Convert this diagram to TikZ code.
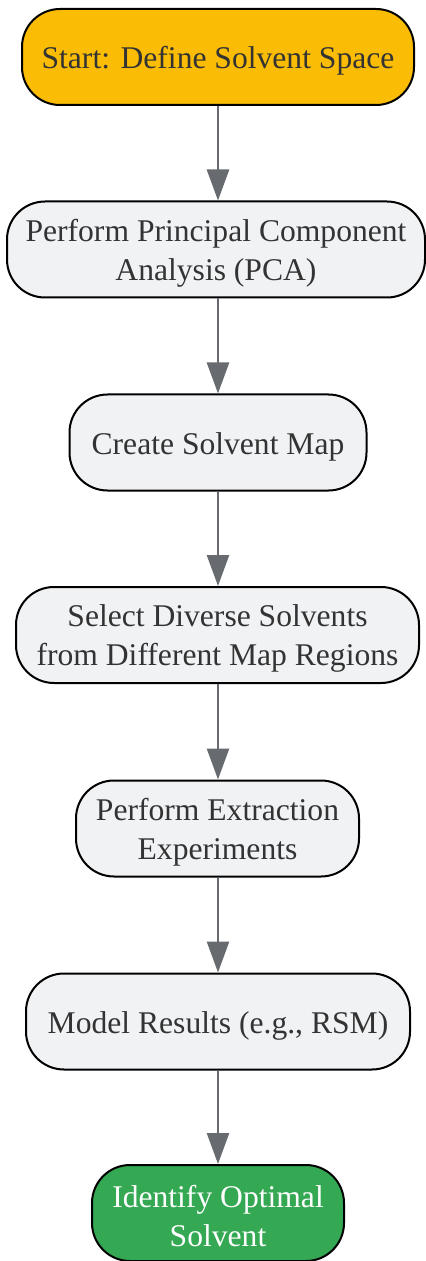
\documentclass[tikz,border=0pt]{standalone}
\usepackage{fontspec}
\setmainfont{Liberation Serif}
\usetikzlibrary{arrows.meta}
\definecolor{startyellow}{HTML}{FBBC05}
\definecolor{endgreen}{HTML}{34A853}
\definecolor{stepgray}{HTML}{F1F2F4}
\definecolor{linkgray}{HTML}{676A6E}
\definecolor{textgray}{HTML}{333333}
\newcommand{\topstrut}{\rule{0pt}{14.5pt}}
\begin{document}
\begin{tikzpicture}[x=0.5pt,y=-0.5pt,
        box/.style={rectangle,draw=black,line width=1pt,rounded corners=19pt,fill=stepgray,text=textgray,align=center,minimum height=48pt,inner sep=0pt,font=\fontsize{15.8}{19.5}\selectfont,execute at begin node={\rule{0pt}{15pt}}},
        link/.style={draw=linkgray,line width=1.3pt,-{Triangle[length=15.5pt,width=11pt]}}]
        \useasboundingbox (0,0) rectangle (426,1261);
        \node[box,fill=startyellow,minimum width=196pt] (start) at (218,57) {Start: Define Solvent Space};
        \node[box,minimum width=209pt] (pca) at (216,249.5) {\topstrut Perform Principal Component\\Analysis (PCA)};
        \node[box,minimum width=148.5pt] (map) at (218,442.5) {Create Solvent Map};
        \node[box,minimum width=201.5pt] (select) at (217.5,635) {\topstrut Select Diverse Solvents\\from Different Map Regions};
        \node[box,minimum width=141.5pt] (extract) at (217.5,828.5) {\topstrut Perform Extraction\\Experiments};
        \node[box,minimum width=192pt] (model) at (218,1021.5) {Model Results (e.g., RSM)};
        \node[box,fill=endgreen,text=white,minimum width=126pt] (optimal) at (218,1213) {\topstrut Identify Optimal\\Solvent};
        \draw[link] (start) -- (start |- pca.north);
        \draw[link] (start |- pca.south) -- (map);
        \draw[link] (map) -- (map |- select.north);
        \draw[link] (map |- select.south) -- (map |- extract.north);
        \draw[link] (map |- extract.south) -- (model);
        \draw[link] (model) -- (optimal);
    \end{tikzpicture}
\end{document}
